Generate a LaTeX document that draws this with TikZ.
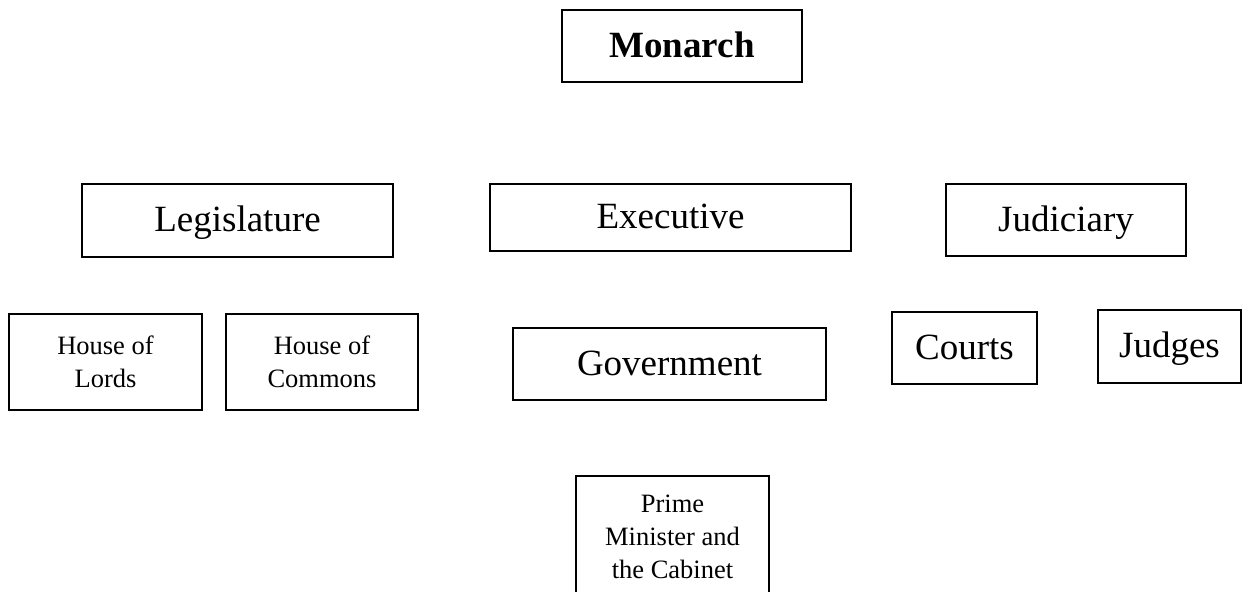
\documentclass[tikz,border=0pt]{standalone}
\usepackage{fontspec}
\setmainfont{Liberation Serif}
\usepackage{tikz}
\usetikzlibrary{positioning}
\tikzset{
  framebox/.style={draw=black,line width=.75pt,inner sep=0pt,align=center},
  orgbox/.style={framebox,font=\fontsize{18.5}{22}\selectfont,text height=12.9pt,text depth=1.8pt},
  subbox/.style={framebox,font=\fontsize{13.25}{16.5}\selectfont}
}

\begin{document}
\begin{tikzpicture}[x=0.5pt,y=0.5pt]
\useasboundingbox (0,0) rectangle (1242,-592);
% top
\node[orgbox,minimum width=120pt,minimum height=36pt,font=\fontsize{18.5}{22}\selectfont\bfseries] (monarch) at (682,-46) {Monarch};
% three branches
\node[orgbox,minimum width=155.5pt,minimum height=36.5pt] (legislature) at (237.5,-220.5) {Legislature};
\node[orgbox,minimum width=180.5pt,minimum height=33.5pt] (executive) at (670.5,-217.5) {Executive};
\node[orgbox,minimum width=120pt,minimum height=36pt] (judiciary) at (1066,-220) {Judiciary};
% second row
\node[subbox,minimum width=96.5pt,minimum height=48pt] (lords) at (105.5,-362) {House of\\Lords};
\node[subbox,minimum width=96pt,minimum height=48pt] (commons) at (322,-362) {House of\\Commons};
\node[orgbox,minimum width=156.5pt,minimum height=36pt] (government) at (669.5,-364) {Government};
\node[orgbox,minimum width=72.5pt,minimum height=36pt] (courts) at (964.5,-348) {Courts};
\node[orgbox,minimum width=71.5pt,minimum height=36.5pt] (judges) at (1169.5,-346.5) {Judges};
% bottom
\node[subbox,minimum width=96.5pt,minimum height=61pt] (cabinet) at (672.5,-537) {Prime\\Minister and\\the Cabinet};
\end{tikzpicture}
\end{document}
